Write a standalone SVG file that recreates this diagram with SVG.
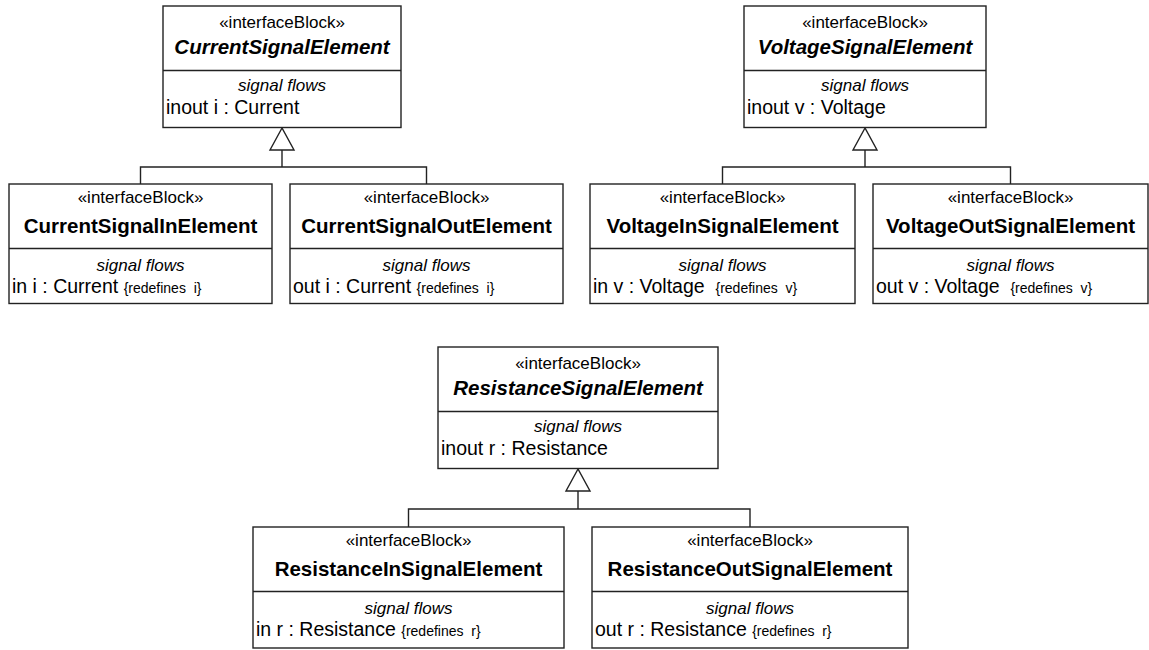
<svg xmlns="http://www.w3.org/2000/svg" width="1149" height="650" viewBox="0 0 1149 650">
<style>
.box{fill:#fff;stroke:#222;stroke-width:1.4}
.div{stroke:#222;stroke-width:1.4}
text{font-family:"Liberation Sans",Arial,sans-serif;fill:#000}
.st{font-size:17px;text-anchor:middle}
.nm{font-size:20.5px;font-weight:bold;text-anchor:middle}
.ab{font-style:italic}
.sf{font-size:17px;font-style:italic;text-anchor:middle}
.at{font-size:19.5px}
.rd{font-size:14px}
.con{fill:none;stroke:#222;stroke-width:1.4}
.tri{fill:#fff;stroke:#222;stroke-width:1.4}
</style>
<g id="connectors">
<polyline class="con" points="140.5,184 140.5,167 426.5,167 426.5,184"/>
<line class="con" x1="282" y1="167" x2="282" y2="150"/>
<polygon class="tri" points="282,128 270,150 294,150"/>
<polyline class="con" points="722.5,184 722.5,167 1010.5,167 1010.5,184"/>
<line class="con" x1="865" y1="167" x2="865" y2="150"/>
<polygon class="tri" points="865,128 853,150 877,150"/>
<polyline class="con" points="408.5,527 408.5,509 750,509 750,527"/>
<line class="con" x1="578" y1="509" x2="578" y2="491"/>
<polygon class="tri" points="578,469 566,491 590,491"/>
</g>
<g id="CurrentSignalElement">
<rect class="box" x="163" y="6" width="238" height="121.5"/>
<line class="div" x1="163" y1="70.5" x2="401" y2="70.5"/>
<text class="st" x="282" y="28">«interfaceBlock»</text>
<text class="nm ab" x="282" y="54">CurrentSignalElement</text>
<text class="sf" x="282" y="91">signal flows</text>
<text class="at" x="166" y="114">inout i : Current</text>
</g>
<g id="CurrentSignalInElement">
<rect class="box" x="9" y="184" width="263" height="119.5"/>
<line class="div" x1="9" y1="248.5" x2="272" y2="248.5"/>
<text class="st" x="140.5" y="203">«interfaceBlock»</text>
<text class="nm" x="140.5" y="233">CurrentSignalInElement</text>
<text class="sf" x="140.5" y="271">signal flows</text>
<text class="at" x="12" y="293" xml:space="preserve">in i : Current <tspan class="rd">{redefines  i}</tspan></text>
</g>
<g id="CurrentSignalOutElement">
<rect class="box" x="290" y="184" width="273" height="119.5"/>
<line class="div" x1="290" y1="248.5" x2="563" y2="248.5"/>
<text class="st" x="426.5" y="203">«interfaceBlock»</text>
<text class="nm" x="426.5" y="233">CurrentSignalOutElement</text>
<text class="sf" x="426.5" y="271">signal flows</text>
<text class="at" x="293" y="293" xml:space="preserve">out i : Current <tspan class="rd">{redefines  i}</tspan></text>
</g>
<g id="VoltageSignalElement">
<rect class="box" x="744" y="6" width="242" height="121.5"/>
<line class="div" x1="744" y1="70.5" x2="986" y2="70.5"/>
<text class="st" x="865" y="28">«interfaceBlock»</text>
<text class="nm ab" x="865" y="54">VoltageSignalElement</text>
<text class="sf" x="865" y="91">signal flows</text>
<text class="at" x="747" y="114">inout v : Voltage</text>
</g>
<g id="VoltageInSignalElement">
<rect class="box" x="590" y="184" width="265" height="119.5"/>
<line class="div" x1="590" y1="248.5" x2="855" y2="248.5"/>
<text class="st" x="722.5" y="203">«interfaceBlock»</text>
<text class="nm" x="722.5" y="233">VoltageInSignalElement</text>
<text class="sf" x="722.5" y="271">signal flows</text>
<text class="at" x="593" y="293" xml:space="preserve">in v : Voltage  <tspan class="rd">{redefines  v}</tspan></text>
</g>
<g id="VoltageOutSignalElement">
<rect class="box" x="873" y="184" width="275" height="119.5"/>
<line class="div" x1="873" y1="248.5" x2="1148" y2="248.5"/>
<text class="st" x="1010.5" y="203">«interfaceBlock»</text>
<text class="nm" x="1010.5" y="233">VoltageOutSignalElement</text>
<text class="sf" x="1010.5" y="271">signal flows</text>
<text class="at" x="876" y="293" xml:space="preserve">out v : Voltage  <tspan class="rd">{redefines  v}</tspan></text>
</g>
<g id="ResistanceSignalElement">
<rect class="box" x="438" y="347" width="280" height="121.5"/>
<line class="div" x1="438" y1="411.5" x2="718" y2="411.5"/>
<text class="st" x="578" y="369">«interfaceBlock»</text>
<text class="nm ab" x="578" y="395">ResistanceSignalElement</text>
<text class="sf" x="578" y="432">signal flows</text>
<text class="at" x="441" y="455">inout r : Resistance</text>
</g>
<g id="ResistanceInSignalElement">
<rect class="box" x="253" y="527" width="311" height="121"/>
<line class="div" x1="253" y1="591.5" x2="564" y2="591.5"/>
<text class="st" x="408.5" y="546">«interfaceBlock»</text>
<text class="nm" x="408.5" y="576">ResistanceInSignalElement</text>
<text class="sf" x="408.5" y="614">signal flows</text>
<text class="at" x="256" y="636" xml:space="preserve">in r : Resistance <tspan class="rd">{redefines  r}</tspan></text>
</g>
<g id="ResistanceOutSignalElement">
<rect class="box" x="592" y="527" width="316" height="121"/>
<line class="div" x1="592" y1="591.5" x2="908" y2="591.5"/>
<text class="st" x="750" y="546">«interfaceBlock»</text>
<text class="nm" x="750" y="576">ResistanceOutSignalElement</text>
<text class="sf" x="750" y="614">signal flows</text>
<text class="at" x="595" y="636" xml:space="preserve">out r : Resistance <tspan class="rd">{redefines  r}</tspan></text>
</g>
</svg>
